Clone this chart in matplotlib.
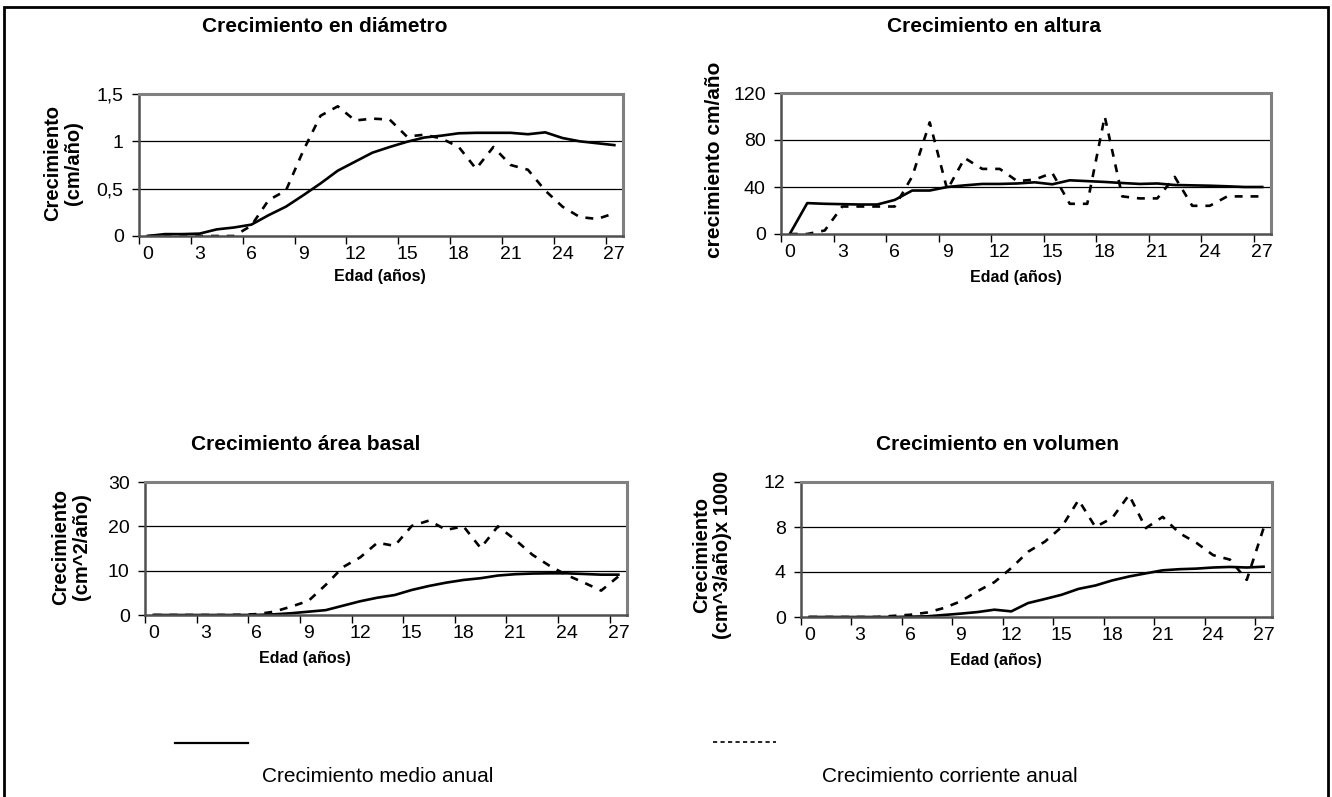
import numpy as np
import matplotlib.pyplot as plt
from matplotlib import font_manager
from matplotlib.lines import Line2D
from matplotlib.patches import Rectangle

plt.rcParams['font.family'] = ['Liberation Sans', 'DejaVu Sans']

# edad (años), una categoria por año
edad = np.arange(0, 28)

# crecimiento en diametro (cm/año)
diam_medio = [0, 0.02, 0.02, 0.025, 0.07, 0.09, 0.12, 0.22, 0.31, 0.43,
              0.555, 0.69, 0.785, 0.88, 0.94, 0.995, 1.04, 1.06, 1.085, 1.09,
              1.09, 1.09, 1.075, 1.095, 1.035, 1.0, 0.98, 0.96]
diam_corr = [0, 0.005, 0.005, 0, 0, 0, 0.11, 0.38, 0.48, 0.9,
             1.27, 1.37, 1.22, 1.24, 1.23, 1.05, 1.07, 1.03, 0.94, 0.71,
             0.94, 0.75, 0.70, 0.48, 0.31, 0.2, 0.18, 0.24]

# crecimiento en altura (cm/año)
alt_medio = [0, 26.3, 25.7, 25.4, 25.1, 25.1, 29, 37, 37, 40,
             41.4, 42.6, 42.6, 43, 44, 42.3, 45.7, 45, 44.3, 43.4,
             42.6, 43, 41.7, 41.4, 41.1, 40.6, 40, 40]
alt_corr = [0, 0, 3, 23.4, 23.4, 23.4, 23.4, 49, 95, 37.7,
            64.6, 55.4, 55.4, 45, 46.3, 52, 25.7, 25.7, 100, 32,
            30.3, 30.3, 48.6, 24, 24, 32, 32, 32]

# crecimiento en area basal (cm^2/año)
ab_medio = [0, 0, 0, 0, 0, 0, 0.02, 0.15, 0.4, 0.75,
            1.1, 2.1, 3.1, 3.9, 4.5, 5.65, 6.55, 7.3, 7.9, 8.3,
            8.9, 9.2, 9.35, 9.4, 9.4, 9.25, 9.1, 9.1]
ab_corr = [0, 0, 0, 0, 0, 0.05, 0.2, 0.75, 1.9, 3.2,
           6.8, 10.8, 13.0, 16.3, 15.6, 20.1, 21.3, 19.2, 20, 15.1,
           20, 17, 13.6, 11.1, 9.0, 7.3, 5.5, 8.7]

# crecimiento en volumen (cm^3/año x 1000)
vol_medio = [0, 0, 0, 0, 0, 0, 0.03, 0.06, 0.18, 0.3,
             0.44, 0.65, 0.5, 1.24, 1.6, 1.98, 2.5, 2.8, 3.25, 3.6,
             3.88, 4.15, 4.25, 4.3, 4.4, 4.45, 4.4, 4.47]
vol_corr = [0, 0, 0, 0, 0, 0.1, 0.2, 0.4, 0.8, 1.4,
            2.3, 3.1, 4.35, 5.8, 6.7, 8.0, 10.4, 8.0, 8.8, 10.85,
            7.9, 8.9, 7.45, 6.6, 5.5, 5.1, 3.3, 7.9]

W, H = 1332, 797
fig = plt.figure(figsize=(W / 100, H / 100), dpi=100)


def px_axes(left, top, right, bottom):
    return fig.add_axes([left / W, 1 - bottom / H, (right - left) / W, (bottom - top) / H])


def panel(ax, medio, corr, yticks, yticklabels):
    x = edad + 0.5  # puntos en el centro de cada categoria
    ax.plot(x, medio, color='black', lw=1.9, solid_joinstyle='round')
    ax.plot(x, corr, color='black', lw=1.9, linestyle=(0, (3, 3)))
    ax.set_xlim(0, len(edad))
    ax.set_ylim(yticks[0], yticks[-1])
    ax.set_yticks(yticks)
    ax.set_yticklabels(yticklabels)
    for y in yticks[1:-1]:
        ax.axhline(y, color='black', lw=0.9, zorder=0)
    ax.set_xticks(edad[::3])
    ax.set_xticklabels([])
    ax.set_xticks(edad[::3] + 0.5, minor=True)
    ax.set_xticklabels([str(e) for e in edad[::3]], minor=True)
    ax.tick_params(axis='x', which='minor', length=0, pad=7, labelsize=14)
    ax.tick_params(axis='x', which='major', length=6, width=1, direction='out')
    ax.tick_params(axis='y', length=5, width=1, direction='out', pad=6, labelsize=14)
    for s in ['top', 'right']:
        ax.spines[s].set_color('#808080')
        ax.spines[s].set_linewidth(2.2)
    for s in ['left', 'bottom']:
        ax.spines[s].set_color('#505050')
        ax.spines[s].set_linewidth(1.8)


ax1 = px_axes(139, 94, 623, 236)
panel(ax1, diam_medio, diam_corr, [0, 0.5, 1, 1.5], ['0', '0,5', '1', '1,5'])
ax2 = px_axes(781, 93, 1271, 234)
panel(ax2, alt_medio, alt_corr, [0, 40, 80, 120], ['0', '40', '80', '120'])
ax3 = px_axes(145, 482, 627, 615)
panel(ax3, ab_medio, ab_corr, [0, 10, 20, 30], ['0', '10', '20', '30'])
ax4 = px_axes(801, 482, 1272, 617)
panel(ax4, vol_medio, vol_corr, [0, 4, 8, 12], ['0', '4', '8', '12'])

title = dict(fontweight='bold', fontsize=15)
fig.text(325 / W, 1 - 27 / H, 'Crecimiento en diámetro', ha='center', va='center', **title)
fig.text(994 / W, 1 - 27 / H, 'Crecimiento en altura', ha='center', va='center', **title)
fig.text(306 / W, 1 - 445 / H, 'Crecimiento área basal', ha='center', va='center', **title)
fig.text(997 / W, 1 - 445 / H, 'Crecimiento en volumen', ha='center', va='center', **title)

xlab = dict(fontweight='bold', fontsize=11.5)
fig.text(380 / W, 1 - 276 / H, 'Edad (años)', ha='center', va='center', **xlab)
fig.text(1016 / W, 1 - 277 / H, 'Edad (años)', ha='center', va='center', **xlab)
fig.text(305 / W, 1 - 658 / H, 'Edad (años)', ha='center', va='center', **xlab)
fig.text(996 / W, 1 - 660 / H, 'Edad (años)', ha='center', va='center', **xlab)

ylab = dict(fontweight='bold', fontsize=14.5, rotation=90, ha='center', va='center',
            linespacing=1.15)
fig.text(63 / W, 1 - 163 / H, 'Crecimiento\n(cm/año)', **ylab)
fig.text(715 / W, 1 - 160 / H, 'crecimiento cm/año', **dict(ylab, fontsize=15))
fig.text(71 / W, 1 - 547 / H, 'Crecimiento\n(cm^2/año)', **ylab)
fig.text(712 / W, 1 - 555 / H, 'Crecimiento\n(cm^3/año)x 1000', **ylab)

# leyenda comun; letra estrecha si esta instalada
try:
    font_manager.findfont('Liberation Sans Narrow', fallback_to_default=False)
    leg_font = dict(family='Liberation Sans Narrow', fontsize=18)
except ValueError:
    leg_font = dict(family='Liberation Sans', fontsize=15)

fig.add_artist(Line2D([175 / W, 248 / W], [1 - 743 / H] * 2, color='black', lw=1.6))
fig.text(262 / W, 1 - 776 / H, 'Crecimiento medio anual', ha='left', va='center', **leg_font)
fig.add_artist(Line2D([713 / W, 776 / W], [1 - 742 / H] * 2, color='black', lw=1.2,
                      linestyle=(0, (2.5, 2))))
fig.text(822 / W, 1 - 776 / H, 'Crecimiento corriente anual', ha='left', va='center', **leg_font)

# marco exterior
fig.add_artist(Rectangle((4 / W, -0.05), 1324 / W, 1.05 - 7 / H, transform=fig.transFigure,
                         fill=False, edgecolor='black', lw=2))

fig.savefig('out.png', dpi=100)
